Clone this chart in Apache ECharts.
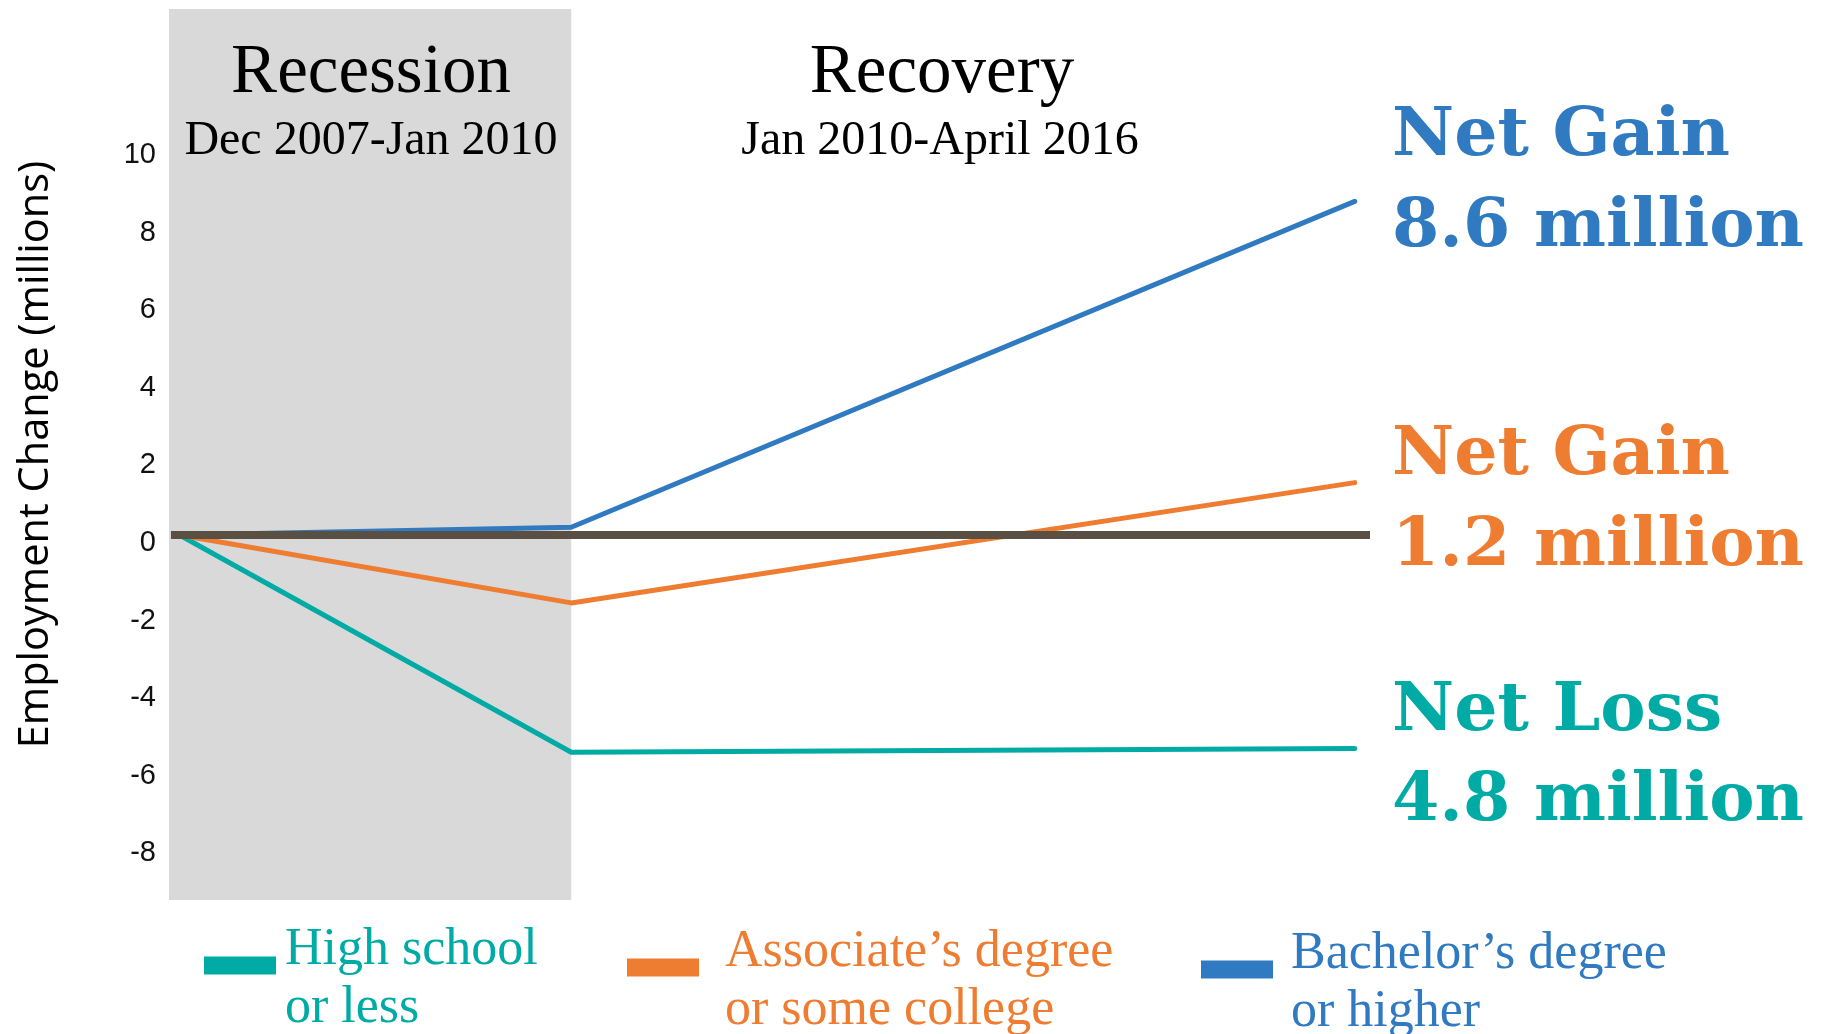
<!DOCTYPE html>
<html>
<head>
<meta charset="utf-8">
<script src="https://cdn.jsdelivr.net/npm/echarts@6/dist/echarts.min.js"></script>
<style>
html,body{margin:0;padding:0;background:#fff;}
#chart{width:1832px;height:1034px;}
</style>
</head>
<body>
<div id="chart"></div>
<script>
// Timeline positions (chart units): start of recession, end of recession, end of recovery
const periodPoints = [0, 1, 3];
const periodNames = ['Dec 2007', 'Jan 2010', 'April 2016'];
// Employment change (millions)
const highSchool = [0, -5.6, -5.5];
const associate = [0, -1.75, 1.35];
const bachelor = [0, 0.2, 8.6];
const seriesNames = ['High school\nor less', 'Associate\u2019s degree\nor some college', 'Bachelor\u2019s degree\nor higher'];
const yTicks = [-8, -6, -4, -2, 0, 2, 4, 6, 8, 10];
const recessionSpan = [-0.0268, 1.0];
const zeroLineSpan = [-0.0217, 3.039];
const annotations = [
  ['Net Gain', '8.6 million'],
  ['Net Gain', '1.2 million'],
  ['Net Loss', '4.8 million']
];
const headers = [
  ['Recession', 'Dec 2007-Jan 2010'],
  ['Recovery', 'Jan 2010-April 2016']
];

const TEAL = '#00ABA6', ORANGE = '#EE7D31', BLUE = '#2F7AC0';
const SERIF = '"Liberation Serif", "DejaVu Serif", serif';

const chart = echarts.init(document.getElementById('chart'));

function pts(arr) { return arr.map((v, i) => [periodPoints[i], v]); }

function legendFor(i, left, top, color, padLeft) {
  const tok = { fontFamily: SERIF, fontSize: 52, color: color, padding: [0, 0, 0, padLeft] };
  return {
    show: true, left: left, top: top, padding: 0, orient: 'horizontal',
    selectedMode: false, icon: 'rect', itemWidth: 72, itemHeight: 18,
    data: [{ name: seriesNames[i] }],
    formatter: function (name) {
      const parts = name.split('\n');
      return '{a|' + parts[0] + '}\n{b|' + parts[1] + '}';
    },
    textStyle: {
      fontFamily: SERIF, fontSize: 52, color: color,
      rich: {
        a: Object.assign({ lineHeight: 85 }, tok),
        b: Object.assign({ lineHeight: 31 }, tok)
      }
    }
  };
}

const annFont = 'bold 68px "DejaVu Serif", serif';

const option = {
  animation: false,
  backgroundColor: '#fff',
  grid: { left: 169, right: 462, top: 9, bottom: 134, containLabel: false },
  xAxis: {
    type: 'value', min: -0.0268, max: 3.039,
    axisLine: { show: false },
    axisTick: { show: false }, axisLabel: { show: false }, splitLine: { show: false }
  },
  yAxis: {
    type: 'value', min: -9.407, max: 13.557,
    name: 'Employment Change (millions)', nameLocation: 'middle', nameGap: 112,
    nameTextStyle: { fontFamily: '"Open Sans", Lato, sans-serif', fontSize: 41.5, color: '#000' },
    axisLine: { show: false }, axisTick: { show: false }, splitLine: { show: false },
    axisLabel: {
      customValues: yTicks, margin: 13, verticalAlign: 'top', lineHeight: 16,
      fontFamily: '"Liberation Sans", Arial, sans-serif', fontSize: 29, color: '#111'
    }
  },
  legend: [
    legendFor(0, 204, 924, TEAL, 4),
    legendFor(1, 627, 926, ORANGE, 21),
    legendFor(2, 1201, 928, BLUE, 13)
  ],
  series: [
    {
      name: '__recession', type: 'line', data: [], z: 0, silent: true,
      markArea: {
        silent: true,
        itemStyle: { color: '#D9D9D9' },
        data: [[{ xAxis: recessionSpan[0], yAxis: -9.407 }, { xAxis: recessionSpan[1], yAxis: 13.557 }]]
      }
    },
    { name: seriesNames[0], type: 'line', data: pts(highSchool), color: TEAL, symbol: 'none', z: 3,
      lineStyle: { width: 5, color: TEAL, cap: 'round', join: 'round' } },
    { name: seriesNames[1], type: 'line', data: pts(associate), color: ORANGE, symbol: 'none', z: 3,
      lineStyle: { width: 5, color: ORANGE, cap: 'round', join: 'round' } },
    { name: seriesNames[2], type: 'line', data: pts(bachelor), color: BLUE, symbol: 'none', z: 3,
      lineStyle: { width: 5, color: BLUE, cap: 'round', join: 'round' } },
    {
      name: '__zero', type: 'line', data: [], z: 6, silent: true,
      markLine: {
        silent: true, symbol: 'none', animation: false,
        label: { show: false },
        lineStyle: { color: '#594F42', width: 8, type: 'solid', cap: 'butt' },
        emphasis: { disabled: true },
        data: [[{ coord: [zeroLineSpan[0], 0] }, { coord: [zeroLineSpan[1], 0] }]]
      }
    }
  ],
  graphic: [
    { type: 'text', x: 371, y: 74, style: { text: headers[0][0], font: '69px ' + SERIF, fill: '#000', align: 'center', verticalAlign: 'middle' }, z: 20 },
    { type: 'text', x: 371, y: 141, style: { text: headers[0][1], font: '48px ' + SERIF, fill: '#000', align: 'center', verticalAlign: 'middle' }, z: 20 },
    { type: 'text', x: 942, y: 74, style: { text: headers[1][0], font: '69px ' + SERIF, fill: '#000', align: 'center', verticalAlign: 'middle' }, z: 20 },
    { type: 'text', x: 940, y: 141, style: { text: headers[1][1], font: '48px ' + SERIF, fill: '#000', align: 'center', verticalAlign: 'middle' }, z: 20 },

    { type: 'text', x: 1392, y: 137, style: { text: annotations[0][0], font: annFont, fill: BLUE, align: 'left', verticalAlign: 'middle' }, z: 20 },
    { type: 'text', x: 1392, y: 228, style: { text: annotations[0][1], font: annFont, fill: BLUE, align: 'left', verticalAlign: 'middle' }, z: 20 },
    { type: 'text', x: 1392, y: 456, style: { text: annotations[1][0], font: annFont, fill: ORANGE, align: 'left', verticalAlign: 'middle' }, z: 20 },
    { type: 'text', x: 1392, y: 547, style: { text: annotations[1][1], font: annFont, fill: ORANGE, align: 'left', verticalAlign: 'middle' }, z: 20 },
    { type: 'text', x: 1392, y: 712, style: { text: annotations[2][0], font: annFont, fill: TEAL, align: 'left', verticalAlign: 'middle' }, z: 20 },
    { type: 'text', x: 1392, y: 802, style: { text: annotations[2][1], font: annFont, fill: TEAL, align: 'left', verticalAlign: 'middle' }, z: 20 }
  ]
};
chart.setOption(option);
</script>
</body>
</html>
